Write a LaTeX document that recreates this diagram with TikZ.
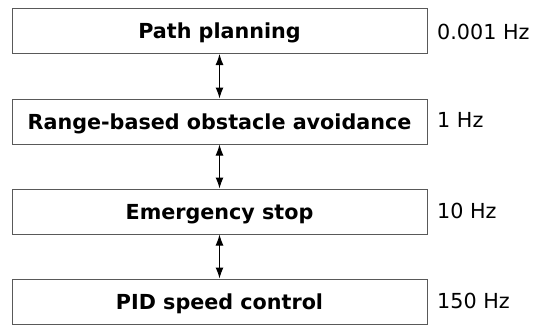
\documentclass[tikz,border=0pt]{standalone}
\usepackage{fontspec}
\setmainfont{DejaVu Sans}
\usetikzlibrary{arrows.meta}
\begin{document}
\begin{tikzpicture}[x=1pt,y=-1pt,
  layerbox/.style={draw=black!65, line width=1pt, fill=white, minimum width=415pt, minimum height=45pt,
    inner sep=0pt, font=\fontsize{20.7}{25}\selectfont\bfseries, text height=15pt, text depth=0pt},
  ratelabel/.style={anchor=west, inner sep=0pt, font=\fontsize{20.7}{25}\selectfont, text height=15pt, text depth=0pt},
  link/.style={line width=1pt, {Latex[length=11pt,width=8pt]}-{Latex[length=11pt,width=8pt]}}]
\useasboundingbox (0,0) rectangle (540,327);
\fill[white] (0,0) rectangle (540,327);
\node[layerbox] (pp) at (219.5,31) {Path planning};
\node[layerbox] (ra) at (219.5,121.5) {Range-based obstacle avoidance};
\node[layerbox] (es) at (219.5,211.5) {Emergency stop};
\node[layerbox] (pid) at (219.5,301.5) {PID speed control};
\node[ratelabel] (r1) at (437,31.5) {0.001 Hz};
\node[ratelabel] (r2) at (437,119.5) {1 Hz};
\node[ratelabel] (r3) at (437,210.5) {10 Hz};
\node[ratelabel] (r4) at (437,301) {150 Hz};
\draw[link] (pp.south) -- (ra.north);
\draw[link] (ra.south) -- (es.north);
\draw[link] (es.south) -- (pid.north);
\end{tikzpicture}
\end{document}
